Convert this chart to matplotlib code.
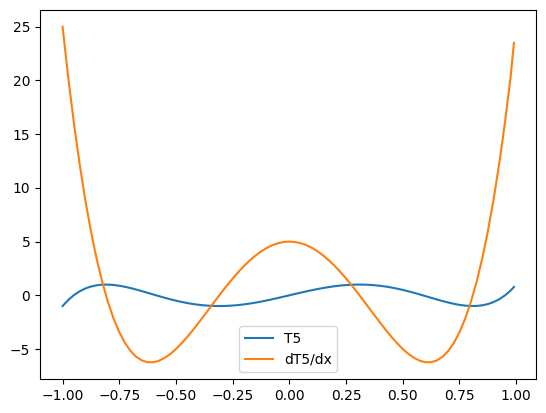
import matplotlib
matplotlib.use('Agg')
import matplotlib.pyplot as plt

# sample points (right half), mirrored below
x_pos = [0.000, 0.025, 0.050, 0.075, 0.100, 0.125, 0.150, 0.175, 0.200, 0.225,
         0.250, 0.275, 0.300, 0.325, 0.350, 0.375, 0.400, 0.425, 0.450, 0.475,
         0.500, 0.525, 0.550, 0.575, 0.600, 0.625, 0.650, 0.675, 0.700, 0.725,
         0.750, 0.775, 0.800, 0.825, 0.850, 0.875, 0.900, 0.925, 0.950, 0.975]
t5_pos = [0.0, 0.1247, 0.2475, 0.3666, 0.4802, 0.5864, 0.6837, 0.7704, 0.8451, 0.9064,
          0.9531, 0.9842, 0.9989, 0.9965, 0.9765, 0.9390, 0.8838, 0.8115, 0.7228, 0.6185,
          0.5, 0.3691, 0.2278, 0.0785, -0.0758, -0.2319, -0.3860, -0.5339, -0.6709, -0.7917,
          -0.8906, -0.9614, -0.9971, -0.9904, -0.9332, -0.8169, -0.6322, -0.3692, -0.0170, 0.4353]
dt5_pos = [5.0, 4.9625, 4.8505, 4.665, 4.408, 4.082, 3.6905, 3.2375, 2.728, 2.1675,
           1.5625, 0.92, 0.248, -0.445, -1.1495, -1.8555, -2.552, -3.2275, -3.8695, -4.465,
           -5.0, -5.46, -5.8295, -6.0925, -6.232, -6.2305, -6.0695, -5.73, -5.192, -4.4349,
           -3.4375, -2.1775, -0.632, 1.2225, 3.4105, 5.9571, 8.888, 12.23, 16.0105, 20.2575]

# end points
x_left, t5_left, dt5_left = -1.00, -1.0, 25.0
x_right, t5_right, dt5_right = 0.99, 0.78, 23.5

x = [x_left] + [-v for v in x_pos[:0:-1]] + x_pos + [x_right]
t5 = [t5_left] + [-v for v in t5_pos[:0:-1]] + t5_pos + [t5_right]
dt5 = [dt5_left] + dt5_pos[:0:-1] + dt5_pos + [dt5_right]

fig = plt.figure(figsize=(5.46, 4.13), dpi=100)
ax = fig.add_axes([0.0733, 0.0823, 0.9093, 0.8935])
ax.plot(x, t5, label='T5')
ax.plot(x, dt5, label='dT5/dx')
ax.legend(loc='lower center')

fig.savefig('out.png', dpi=100)
